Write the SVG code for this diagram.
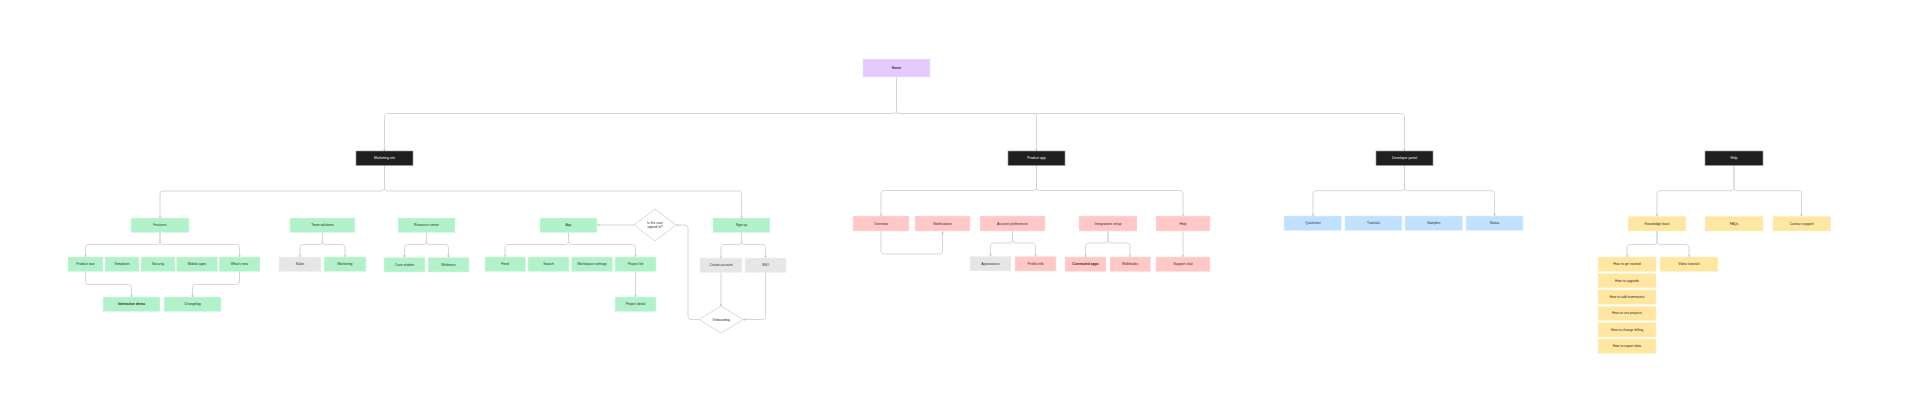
<svg xmlns="http://www.w3.org/2000/svg" width="1908" height="416" viewBox="0 0 1908 416">
<defs>
<marker id="ah" viewBox="0 0 6 6" refX="5.5" refY="3" markerWidth="3" markerHeight="3" markerUnits="userSpaceOnUse" orient="auto">
<path d="M0.5,0.8 L5.5,3 L0.5,5.2" fill="none" stroke="#b8b8b8" stroke-width="1"/>
</marker>
<style>
text{font-family:"Liberation Sans",Arial,sans-serif;font-size:3.4px;fill:#2a2a2a;text-anchor:middle;dominant-baseline:central}
.blk rect{fill:#1f1f1f;stroke:#9a9a9a;stroke-width:0.6}
.blk text{fill:#f2f2f2}
.pur rect{fill:#e3cbff;stroke:#f3e9ff;stroke-width:0.5}
.grn rect{fill:#b2f2ca;stroke:#d8fae4;stroke-width:0.5}
.gry rect{fill:#e6e6e6;stroke:#f2f2f2;stroke-width:0.5}
.red rect{fill:#ffc8c6;stroke:#ffe2e1;stroke-width:0.5}
.blu rect{fill:#c1e2ff;stroke:#e0f0ff;stroke-width:0.5}
.yel rect{fill:#ffe7a1;stroke:#fff3d0;stroke-width:0.5}
.dia polygon{fill:#ffffff;stroke:#d0d0d0;stroke-width:0.8}
#connectors path{fill:none;stroke:#d2d2d2;stroke-width:0.9}
</style>
</defs>
<rect x="0" y="0" width="1908" height="416" fill="#ffffff"/>

<g id="connectors">
<path d="M896.5 77 V110.5 Q896.5 113.5 893.5 113.5 H387.5 Q384.5 113.5 384.5 116.5 V151" marker-end="url(#ah)"/>
<path d="M896.5 77 V110.5 Q896.5 113.5 899.5 113.5 H1033.5 Q1036.5 113.5 1036.5 116.5 V151" marker-end="url(#ah)"/>
<path d="M896.5 77 V110.5 Q896.5 113.5 899.5 113.5 H1401.5 Q1404.5 113.5 1404.5 116.5 V151" marker-end="url(#ah)"/>

<path d="M384.5 165.5 V188 Q384.5 191 381.5 191 H163 Q160 191 160 194 V218" marker-end="url(#ah)"/>
<path d="M384.5 165.5 V188 Q384.5 191 387.5 191 H738.5 Q741.5 191 741.5 194 V218" marker-end="url(#ah)"/>

<path d="M160 232.5 V241.5 Q160 244.5 157 244.5 H88.5 Q85.5 244.5 85.5 247.5 V257" marker-end="url(#ah)"/>
<path d="M160 232.5 V241.5 Q160 244.5 163 244.5 H236.5 Q239.5 244.5 239.5 247.5 V257" marker-end="url(#ah)"/>
<path d="M85.5 271.5 V281.5 Q85.5 284.5 88.5 284.5 H128.5 Q131.5 284.5 131.5 287.5 V297" marker-end="url(#ah)"/>
<path d="M239.5 271.5 V281.5 Q239.5 284.5 236.5 284.5 H195.5 Q192.5 284.5 192.5 287.5 V297" marker-end="url(#ah)"/>

<path d="M322.5 232.5 V241.5 Q322.5 244.5 319.5 244.5 H303 Q300 244.5 300 247.5 V257" marker-end="url(#ah)"/>
<path d="M322.5 232.5 V241.5 Q322.5 244.5 325.5 244.5 H342 Q345 244.5 345 247.5 V257" marker-end="url(#ah)"/>

<path d="M426.5 232.5 V241.5 Q426.5 244.5 423.5 244.5 H407.5 Q404.5 244.5 404.5 247.5 V257.5" marker-end="url(#ah)"/>
<path d="M426.5 232.5 V241.5 Q426.5 244.5 429.5 244.5 H445.5 Q448.5 244.5 448.5 247.5 V257.5" marker-end="url(#ah)"/>

<path d="M568.5 232.5 V241.5 Q568.5 244.5 565.5 244.5 H508 Q505 244.5 505 247.5 V257" marker-end="url(#ah)"/>
<path d="M568.5 232.5 V241.5 Q568.5 244.5 571.5 244.5 H632.5 Q635.5 244.5 635.5 247.5 V257" marker-end="url(#ah)"/>
<path d="M635.5 271.5 V297" marker-end="url(#ah)"/>
<path d="M634 225 H597.5" marker-end="url(#ah)"/>

<path d="M741.5 232.5 V241.5 Q741.5 244.5 738.5 244.5 H724 Q721 244.5 721 247.5 V258" marker-end="url(#ah)"/>
<path d="M741.5 232.5 V241.5 Q741.5 244.5 744.5 244.5 H762.5 Q765.5 244.5 765.5 247.5 V258" marker-end="url(#ah)"/>
<path d="M721 272.5 V306" marker-end="url(#ah)"/>
<path d="M765.5 272.5 V316.5 Q765.5 319.5 762.5 319.5 H743.5" marker-end="url(#ah)"/>
<path d="M699 319.5 H691 Q688 319.5 688 316.5 V228 Q688 225 685 225 H676.5" marker-end="url(#ah)"/>

<path d="M1036.5 165.5 V187.5 Q1036.5 190.5 1033.5 190.5 H884 Q881 190.5 881 193.5 V216" marker-end="url(#ah)"/>
<path d="M1036.5 165.5 V187.5 Q1036.5 190.5 1039.5 190.5 H1180 Q1183 190.5 1183 193.5 V216" marker-end="url(#ah)"/>
<path d="M881 231 V251 Q881 254 884 254 H939.5 Q942.5 254 942.5 251 V231.5" marker-end="url(#ah)"/>
<path d="M1012.5 231 V240 Q1012.5 243 1009.5 243 H993.5 Q990.5 243 990.5 246 V256.5" marker-end="url(#ah)"/>
<path d="M1012.5 231 V240 Q1012.5 243 1015.5 243 H1032.5 Q1035.5 243 1035.5 246 V256.5" marker-end="url(#ah)"/>
<path d="M1108 231 V240 Q1108 243 1105 243 H1088.5 Q1085.5 243 1085.5 246 V257" marker-end="url(#ah)"/>
<path d="M1108 231 V240 Q1108 243 1111 243 H1127 Q1130 243 1130 246 V257" marker-end="url(#ah)"/>
<path d="M1183 231 V257" marker-end="url(#ah)"/>

<path d="M1404.5 165.5 V187.7 Q1404.5 190.7 1401.5 190.7 H1316 Q1313 190.7 1313 193.7 V216" marker-end="url(#ah)"/>
<path d="M1404.5 165.5 V187.7 Q1404.5 190.7 1407.5 190.7 H1491.5 Q1494.5 190.7 1494.5 193.7 V216" marker-end="url(#ah)"/>

<path d="M1734 165.5 V187.7 Q1734 190.7 1731 190.7 H1660 Q1657 190.7 1657 193.7 V216" marker-end="url(#ah)"/>
<path d="M1734 165.5 V187.7 Q1734 190.7 1737 190.7 H1798.5 Q1801.5 190.7 1801.5 193.7 V216" marker-end="url(#ah)"/>
<path d="M1657 231 V241.5 Q1657 244.5 1654 244.5 H1630 Q1627 244.5 1627 247.5 V257" marker-end="url(#ah)"/>
<path d="M1657 231 V241.5 Q1657 244.5 1660 244.5 H1686 Q1689 244.5 1689 247.5 V257" marker-end="url(#ah)"/>
</g>

<g id="home" class="pur"><rect x="863" y="59" width="67" height="18"/><text x="896.5" y="68" style="font-weight:bold">Home</text></g>

<g id="marketing" class="blk"><rect x="356" y="151" width="57" height="14.5"/><text x="384.5" y="158.2">Marketing site</text></g>
<g id="product-app" class="blk"><rect x="1008" y="151" width="57" height="14.5"/><text x="1036.5" y="158.2">Product app</text></g>
<g id="developer" class="blk"><rect x="1376" y="151" width="57" height="14.5"/><text x="1404.5" y="158.2">Developer portal</text></g>
<g id="help" class="blk"><rect x="1705" y="151" width="58" height="14.5"/><text x="1734" y="158.2">Help</text></g>

<g id="features" class="grn"><rect x="131" y="218" width="58" height="14.5"/><text x="160" y="225.2">Features</text></g>
<g id="product-tour" class="grn"><rect x="68" y="257" width="35" height="14.5"/><text x="85.5" y="264.2">Product tour</text></g>
<g id="templates" class="grn"><rect x="105" y="257" width="34" height="14.5"/><text x="122" y="264.2">Templates</text></g>
<g id="security" class="grn"><rect x="141" y="257" width="34" height="14.5"/><text x="158" y="264.2">Security</text></g>
<g id="mobile" class="grn"><rect x="176.5" y="257" width="41" height="14.5"/><text x="197" y="264.2">Mobile apps</text></g>
<g id="whats-new" class="grn"><rect x="219" y="257" width="41" height="14.5"/><text x="239.5" y="264.2">What's new</text></g>
<g id="demo" class="grn"><rect x="103" y="297" width="57" height="14.5"/><text x="131.5" y="304.2" style="font-weight:bold">Interactive demo</text></g>
<g id="changelog" class="grn"><rect x="164" y="297" width="57" height="14.5"/><text x="192.5" y="304.2">Changelog</text></g>

<g id="solutions" class="grn"><rect x="290" y="218" width="65" height="14.5"/><text x="322.5" y="225.2">Team solutions</text></g>
<g id="sales" class="gry"><rect x="279" y="257" width="42" height="14.5"/><text x="300" y="264.2">Sales</text></g>
<g id="mkt" class="grn"><rect x="324" y="257" width="42" height="14.5"/><text x="345" y="264.2">Marketing</text></g>

<g id="resources" class="grn"><rect x="398" y="218" width="57" height="14.5"/><text x="426.5" y="225.2">Resource center</text></g>
<g id="case-studies" class="grn"><rect x="384" y="257.5" width="41" height="14.5"/><text x="404.5" y="264.7">Case studies</text></g>
<g id="webinars" class="grn"><rect x="428" y="257.5" width="41" height="14.5"/><text x="448.5" y="264.7">Webinars</text></g>

<g id="app" class="grn"><rect x="540" y="218" width="57" height="14.5"/><text x="568.5" y="225.2">App</text></g>
<g id="feed" class="grn"><rect x="485" y="257" width="40.5" height="14.5"/><text x="505" y="264.2">Feed</text></g>
<g id="search" class="grn"><rect x="528" y="257" width="41" height="14.5"/><text x="548.5" y="264.2">Search</text></g>
<g id="workspace" class="grn"><rect x="571.5" y="257" width="41" height="14.5"/><text x="592" y="264.2">Workspace settings</text></g>
<g id="projects" class="grn"><rect x="615" y="257" width="41" height="14.5"/><text x="635.5" y="264.2">Project list</text></g>
<g id="project-detail" class="grn"><rect x="615" y="297" width="41" height="14.5"/><text x="635.5" y="304.2">Project detail</text></g>

<g id="signed-in" class="dia"><polygon points="634,225 655,209 676,225 655,241"/><text x="655" y="223">Is the user</text><text x="655" y="227.2">signed in?</text></g>

<g id="signup" class="grn"><rect x="713" y="218" width="57" height="14.5"/><text x="741.5" y="225.2">Sign up</text></g>
<g id="create-account" class="gry"><rect x="700" y="258" width="42" height="14.5"/><text x="721" y="265.2">Create account</text></g>
<g id="sso" class="gry"><rect x="745" y="258" width="41" height="14.5"/><text x="765.5" y="265.2">SSO</text></g>
<g id="onboarding" class="dia"><polygon points="699,319.5 721,306 743,319.5 721,333"/><text x="721" y="319.5">Onboarding</text></g>

<g id="overview" class="red"><rect x="853" y="216" width="56" height="15"/><text x="881" y="223.5">Overview</text></g>
<g id="notifications" class="red"><rect x="915" y="216" width="55" height="15"/><text x="942.5" y="223.5">Notifications</text></g>
<g id="account" class="red"><rect x="980" y="216" width="65" height="15"/><text x="1012.5" y="223.5">Account preferences</text></g>
<g id="integrations" class="red"><rect x="1079" y="216" width="58" height="15"/><text x="1108" y="223.5">Integrations setup</text></g>
<g id="support" class="red"><rect x="1156" y="216" width="54" height="15"/><text x="1183" y="223.5">Help</text></g>
<g id="appearance" class="gry"><rect x="970" y="256.5" width="41" height="14.5"/><text x="990.5" y="263.7">Appearance</text></g>
<g id="profile" class="red"><rect x="1015" y="256.5" width="41" height="14.5"/><text x="1035.5" y="263.7">Profile info</text></g>
<g id="connected" class="red"><rect x="1065" y="257" width="41" height="14.5"/><text x="1085.5" y="264.2" style="font-weight:bold">Connected apps</text></g>
<g id="webhooks" class="red"><rect x="1110" y="257" width="40.5" height="14.5"/><text x="1130" y="264.2">Webhooks</text></g>
<g id="chat" class="red"><rect x="1156" y="257" width="54" height="14.5"/><text x="1183" y="264.2">Support chat</text></g>

<g id="quickstart" class="blu"><rect x="1284" y="216" width="57.5" height="14.5"/><text x="1313" y="223.2">Quickstart</text></g>
<g id="tutorials" class="blu"><rect x="1345" y="216" width="57" height="14.5"/><text x="1373.5" y="223.2">Tutorials</text></g>
<g id="samples" class="blu"><rect x="1405" y="216" width="57.5" height="14.5"/><text x="1433.8" y="223.2">Samples</text></g>
<g id="status" class="blu"><rect x="1466" y="216" width="57" height="14.5"/><text x="1494.5" y="223.2">Status</text></g>

<g id="kb" class="yel"><rect x="1628" y="216.3" width="58" height="14.7"/><text x="1657" y="223.6">Knowledge base</text></g>
<g id="faqs" class="yel"><rect x="1705" y="216.3" width="58" height="14.7"/><text x="1734" y="223.6">FAQs</text></g>
<g id="contact" class="yel"><rect x="1773" y="216.3" width="57.5" height="14.7"/><text x="1801.7" y="223.6">Contact support</text></g>
<g id="a1" class="yel"><rect x="1598" y="257" width="58" height="14.5"/><text x="1627" y="264.2">How to get started</text></g>
<g id="a2" class="yel"><rect x="1598" y="273.4" width="58" height="14.5"/><text x="1627" y="280.6">How to upgrade</text></g>
<g id="a3" class="yel"><rect x="1598" y="289.8" width="58" height="14.5"/><text x="1627" y="297">How to add teammates</text></g>
<g id="a4" class="yel"><rect x="1598" y="306.2" width="58" height="14.5"/><text x="1627" y="313.4">How to use projects</text></g>
<g id="a5" class="yel"><rect x="1598" y="322.6" width="58" height="14.5"/><text x="1627" y="329.8">How to change billing</text></g>
<g id="a6" class="yel"><rect x="1598" y="339" width="58" height="14.5"/><text x="1627" y="346.2">How to export data</text></g>
<g id="videos" class="yel"><rect x="1660" y="257" width="58" height="14.5"/><text x="1689" y="264.2">Video tutorials</text></g>
</svg>
